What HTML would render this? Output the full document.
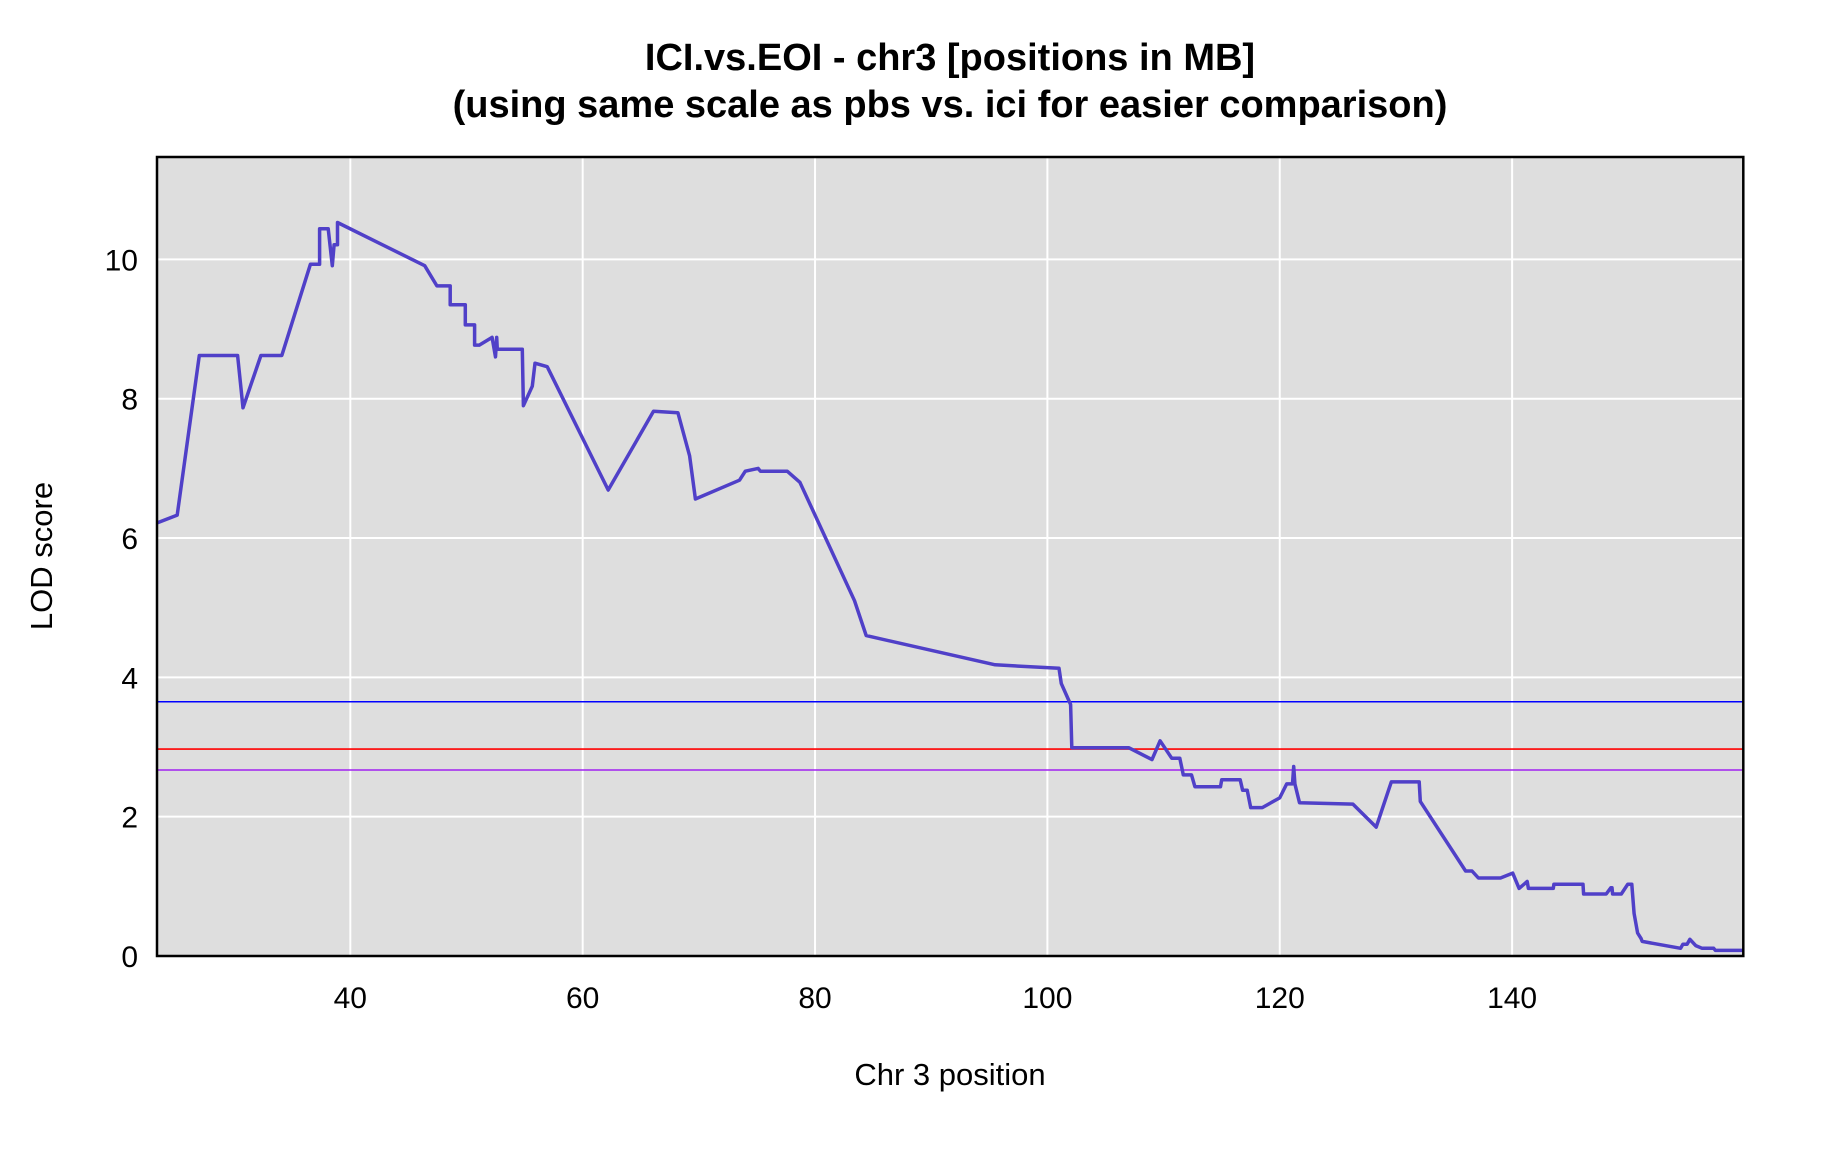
<!DOCTYPE html>
<html><head><meta charset="utf-8"><style>
html,body{margin:0;padding:0;background:#fff;}
svg text{font-family:"Liberation Sans",Arial,sans-serif;}
</style></head><body>
<svg id="chart" width="1824" height="1152" xmlns="http://www.w3.org/2000/svg">
<text x="950" y="70" text-anchor="middle" font-size="38" font-weight="bold">ICI.vs.EOI - chr3 [positions in MB]</text>
<text x="950" y="117" text-anchor="middle" font-size="38" font-weight="bold">(using same scale as pbs vs. ici for easier comparison)</text>
<g id="plot"></g>
<text x="950" y="1085" text-anchor="middle" font-size="31">Chr 3 position</text>
<text transform="translate(52,556) rotate(-90)" text-anchor="middle" font-size="31">LOD score</text>
</svg>
<script>
const positions=[23.4,25.1,27.0,30.3,30.76,32.3,34.1,36.56,37.36,37.36,38.1,38.45,38.6,38.9,38.9,46.4,47.45,48.6,48.6,49.9,49.9,50.7,50.7,51.1,52.2,52.5,52.6,52.65,54.8,54.9,55.66,55.9,56.95,62.2,66.1,68.2,69.2,69.7,73.5,74.0,75.1,75.3,77.6,78.7,83.4,84.4,95.5,101.0,101.2,102.0,102.1,107.0,109.0,109.7,110.7,111.4,111.7,112.4,112.7,114.9,115.0,116.6,116.8,117.2,117.5,118.5,120.0,120.6,121.1,121.2,121.3,121.7,126.3,128.3,129.6,132.0,132.1,136.0,136.55,137.1,139.0,140.05,140.6,141.3,141.4,143.55,143.6,146.1,146.15,148.1,148.5,148.6,148.65,149.4,149.95,150.3,150.5,150.8,151.1,151.2,154.5,154.7,155.06,155.3,155.8,156.35,157.35,157.5,159.9];
const lodScores=[6.22,6.33,8.62,8.62,7.87,8.62,8.62,9.93,9.93,10.44,10.44,9.91,10.21,10.21,10.53,9.91,9.62,9.62,9.35,9.35,9.06,9.06,8.77,8.77,8.88,8.60,8.88,8.71,8.71,7.90,8.18,8.51,8.46,6.69,7.82,7.80,7.18,6.56,6.83,6.96,7.0,6.96,6.96,6.80,5.10,4.60,4.18,4.13,3.91,3.61,2.99,2.99,2.82,3.09,2.84,2.84,2.60,2.60,2.43,2.43,2.53,2.53,2.38,2.38,2.13,2.13,2.27,2.47,2.47,2.72,2.47,2.20,2.18,1.85,2.50,2.50,2.22,1.22,1.22,1.12,1.12,1.19,0.97,1.07,0.97,0.97,1.03,1.03,0.89,0.89,0.98,0.98,0.89,0.89,1.03,1.03,0.61,0.33,0.25,0.21,0.11,0.17,0.17,0.24,0.15,0.11,0.11,0.08,0.08];
const thresholdValues=[3.65,2.97,2.67];
const thresholdColors=["#0000ff","#ff0000","#a020f0"];
const thresholdNames=["threshold-blue","threshold-red","threshold-purple"];
const xTicks=[40,60,80,100,120,140];
const yTicks=[0,2,4,6,8,10];

const NS="http://www.w3.org/2000/svg";
const L=157,R=1743.3,T=157,B=956;
const xMin=23.36,xMax=159.9,yMin=0,yMax=11.47;
function sx(v){return L+(v-xMin)/(xMax-xMin)*(R-L);}
function sy(v){return B-(v-yMin)/(yMax-yMin)*(B-T);}
const g=document.getElementById('plot');
function mk(tag,attrs,parent){const e=document.createElementNS(NS,tag);for(const k in attrs)e.setAttribute(k,attrs[k]);(parent||g).appendChild(e);return e;}
let bg=mk('rect',{x:L,y:T,width:R-L,height:B-T,fill:'#dedede'});


xTicks.forEach(t=>{
  let l=mk('line',{x1:sx(t),x2:sx(t),y1:T,y2:B,stroke:'#fff','stroke-width':2});
  
  
  let tx=mk('text',{x:sx(t),y:1008,'text-anchor':'middle','font-size':30});
  tx.textContent=t;
  
  
});
yTicks.forEach(t=>{
  let l=mk('line',{x1:L,x2:R,y1:sy(t),y2:sy(t),stroke:'#fff','stroke-width':2});
  
  
  let tx=mk('text',{x:138,y:sy(t)+11,'text-anchor':'end','font-size':30});
  tx.textContent=t;
  
  
});
thresholdValues.forEach((v,i)=>{
  let l=mk('line',{x1:L,x2:R,y1:sy(v),y2:sy(v),stroke:thresholdColors[i],'stroke-width':1.6});
  
  
});
let pts=positions.map((p,i)=>sx(p).toFixed(1)+','+sy(lodScores[i]).toFixed(1)).join(' ');
let pl=mk('polyline',{points:pts,fill:'none',stroke:'#5040c8','stroke-width':3.5,'stroke-linejoin':'round'});


let bd=mk('rect',{x:L,y:T,width:R-L,height:B-T,fill:'none',stroke:'#000','stroke-width':2.5});


</script>
</body></html>
